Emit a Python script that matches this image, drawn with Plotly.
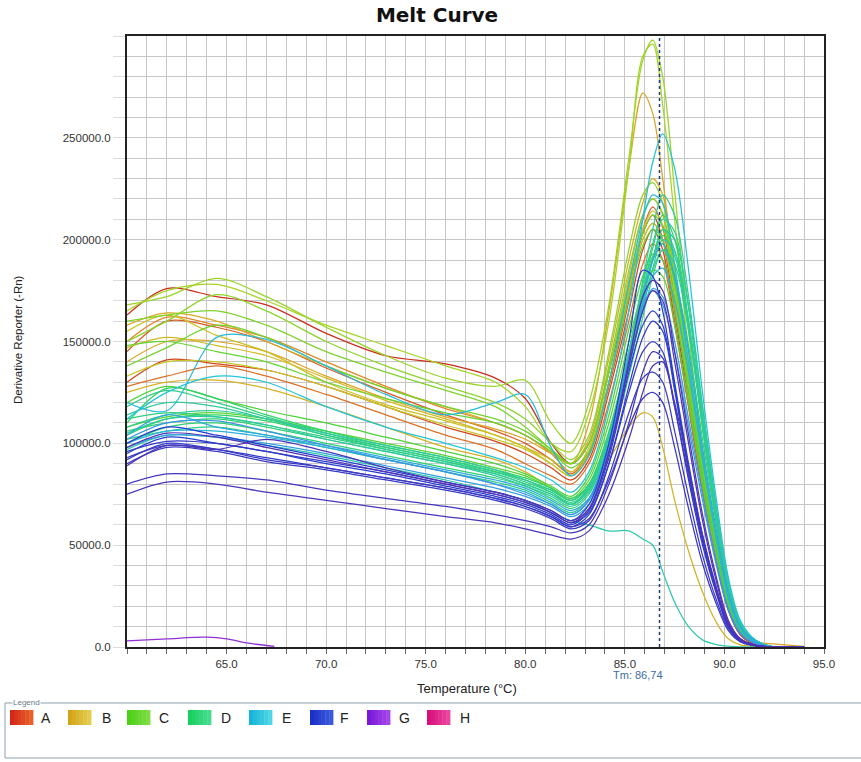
import plotly.graph_objects as go

# Derivative reporter values are stored in thousands (-Rn / 1000)
SCALE = 1000

# Temperature knots (deg C) shared by every well trace
TEMPS = [60, 62, 64.5, 67, 70, 73, 76, 78.5, 80, 81.3, 82.3,
         83.2, 84.2, 85.2, 85.9, 86.4, 86.9, 87.5, 88.2, 88.9, 89.6,
         90.2, 90.8, 91.6, 92.5, 94]

ROW_A = [
    [163, 176, 172, 168, 154, 143, 139, 132, 122, 100, 90, 100, 135, 175, 203, 212, 200, 165, 120, 78, 42, 18, 6, 1, 0, 0],
    [130, 141, 139, 136, 128, 118, 108, 101, 95, 88, 82, 92, 125, 165, 195, 205, 195, 160, 118, 76, 42, 18, 6, 1, 0, 0],
    [145, 160, 157, 150, 137, 125, 114, 106, 100, 92, 85, 95, 128, 170, 205, 216, 206, 170, 126, 82, 46, 20, 7, 1.5, 0, 0],
    [128, 133, 138, 133, 124, 114, 104, 97, 90, 84, 80, 90, 120, 160, 188, 198, 190, 158, 118, 78, 44, 20, 7, 1.5, 0, 0],
    [150, 162, 158, 152, 140, 128, 117, 110, 104, 95, 86, 96, 130, 172, 200, 208, 200, 168, 125, 82, 46, 20, 7, 1.5, 0, 0],
]

ROW_B = [
    [140, 150, 150, 145, 133, 122, 113, 107, 102, 95, 90, 110, 165, 235, 272, 262, 230, 180, 125, 80, 45, 20, 8, 2.5, 1.5, 0.3],
    [158, 164, 160, 150, 138, 127, 118, 110, 104, 96, 90, 102, 142, 190, 218, 230, 222, 185, 135, 88, 50, 22, 8, 2, 0, 0],
    [125, 130, 131, 127, 118, 108, 98, 92, 86, 78, 72, 78, 92, 108, 115, 113, 98, 72, 47, 27, 12, 4, 1, 0.3, 0, 0],
    [147, 152, 148, 143, 132, 121, 112, 104, 98, 90, 84, 96, 135, 182, 212, 220, 212, 178, 132, 86, 48, 21, 8, 2, 0, 0],
    [155, 163, 153, 145, 130, 119, 111, 104, 98, 92, 86, 98, 136, 180, 205, 214, 207, 175, 130, 85, 47, 21, 8, 2, 0, 0],
    [133, 140, 140, 136, 128, 118, 109, 102, 97, 90, 84, 94, 130, 175, 200, 208, 200, 170, 127, 84, 47, 21, 8, 2, 0, 0],
]

ROW_C = [
    [165, 175, 178, 170, 158, 148, 138, 130, 118, 100, 96, 115, 160, 235, 290, 296, 266, 210, 145, 90, 48, 22, 8, 2, 0, 0],
    [168, 172, 181, 172, 157, 143, 132, 128, 131, 110, 100, 120, 168, 240, 288, 298, 280, 224, 155, 96, 52, 24, 9, 2, 0, 0],
    [150, 160, 173, 165, 150, 138, 128, 120, 112, 100, 92, 104, 145, 195, 222, 228, 218, 185, 137, 90, 51, 23, 9, 2, 0, 0],
    [160, 163, 165, 158, 145, 135, 126, 118, 108, 97, 90, 100, 138, 185, 212, 220, 213, 182, 136, 90, 51, 23, 9, 2, 0, 0],
    [138, 147, 158, 152, 138, 127, 118, 112, 106, 97, 90, 100, 135, 178, 203, 212, 207, 178, 133, 88, 50, 23, 9, 2, 0, 0],
    [148, 150, 145, 140, 130, 122, 115, 110, 104, 96, 88, 96, 130, 172, 197, 205, 200, 172, 130, 86, 49, 22, 8, 2, 0, 0],
    [108, 113, 115, 112, 106, 100, 94, 88, 84, 78, 73, 82, 110, 150, 175, 185, 182, 158, 120, 80, 46, 21, 8, 2, 0, 0],
    [120, 128, 122, 116, 110, 103, 96, 90, 85, 79, 74, 84, 114, 156, 182, 193, 190, 165, 125, 83, 47, 22, 8, 2, 0, 0],
]

ROW_D = [
    [104, 112, 114, 111, 104, 98, 92, 86, 82, 77, 72, 80, 106, 145, 175, 192, 198, 180, 140, 95, 55, 26, 10, 2.5, 0, 0],
    [110, 127, 122, 114, 106, 99, 93, 87, 83, 78, 73, 80, 105, 145, 178, 198, 212, 200, 160, 108, 62, 29, 11, 3, 0, 0],
    [100, 108, 110, 106, 100, 94, 88, 83, 79, 73, 68, 75, 100, 140, 170, 190, 205, 195, 158, 108, 62, 29, 11, 3, 0, 0],
    [106, 110, 112, 108, 102, 96, 90, 85, 80, 75, 70, 77, 102, 140, 168, 185, 195, 182, 148, 102, 60, 28, 11, 3, 0, 0],
    [112, 115, 113, 109, 103, 97, 91, 86, 82, 76, 71, 78, 104, 142, 172, 190, 202, 192, 158, 110, 64, 30, 11, 3, 0, 0],
    [118, 126, 120, 113, 105, 98, 92, 86, 81, 76, 70, 78, 103, 140, 170, 190, 205, 200, 168, 118, 68, 32, 12, 3, 0, 0],
    [102, 106, 108, 104, 98, 92, 86, 81, 77, 71, 66, 73, 97, 133, 162, 182, 195, 188, 155, 108, 63, 30, 11, 3, 0, 0],
    [108, 114, 116, 112, 104, 97, 91, 85, 80, 75, 70, 78, 104, 145, 180, 205, 222, 212, 172, 118, 68, 32, 12, 3, 0, 0],
    [114, 120, 118, 112, 105, 99, 93, 87, 82, 77, 72, 79, 104, 142, 174, 196, 210, 204, 166, 114, 66, 31, 12, 3, 0, 0],
    [105, 112, 113, 109, 102, 96, 90, 84, 79, 74, 69, 76, 100, 137, 166, 186, 200, 194, 160, 112, 65, 31, 12, 3, 0, 0],
    [97, 104, 103, 99, 94, 88, 82, 76, 72, 66, 62, 60, 57, 57, 53, 50, 37, 22, 10, 3.5, 1.2, 0.4, 0.1, 0, 0, 0],
]

ROW_E = [
    [112, 125, 133, 130, 118, 108, 100, 93, 88, 82, 76, 86, 118, 165, 210, 238, 252, 235, 185, 125, 72, 34, 13, 3, 0, 0],
    [120, 116, 152, 151, 138, 124, 114, 120, 124, 98, 84, 94, 130, 178, 210, 222, 218, 188, 140, 93, 53, 24, 9, 2, 0, 0],
    [100, 106, 106, 103, 98, 92, 86, 80, 76, 70, 65, 72, 98, 138, 168, 182, 186, 170, 135, 92, 53, 25, 9, 2, 0, 0],
    [104, 114, 108, 104, 99, 93, 87, 82, 78, 72, 67, 73, 100, 142, 172, 190, 198, 182, 145, 98, 57, 27, 10, 2.5, 0, 0],
    [98, 104, 103, 100, 95, 89, 83, 78, 74, 69, 64, 70, 97, 138, 165, 176, 172, 150, 112, 75, 42, 19, 7, 1.5, 0, 0],
    [102, 110, 111, 106, 99, 92, 86, 80, 75, 70, 65, 72, 100, 142, 168, 175, 168, 145, 108, 72, 40, 18, 6.5, 1.5, 0, 0],
]

ROW_F = [
    [100, 108, 104, 99, 93, 87, 81, 76, 72, 67, 62, 70, 100, 150, 185, 182, 165, 130, 90, 55, 28, 11, 3.5, 0.7, 0, 0],
    [95, 103, 100, 96, 90, 85, 79, 74, 70, 65, 60, 67, 93, 135, 158, 165, 158, 128, 88, 54, 28, 11, 3.5, 0.7, 0, 0],
    [92, 100, 97, 93, 88, 83, 78, 73, 69, 64, 59, 65, 90, 128, 152, 160, 155, 126, 86, 52, 27, 10, 3, 0.6, 0, 0],
    [96, 101, 100, 96, 91, 86, 80, 75, 71, 66, 61, 66, 90, 125, 145, 150, 145, 118, 82, 50, 26, 10, 3, 0.6, 0, 0],
    [90, 98, 96, 91, 87, 82, 77, 72, 68, 63, 58, 62, 84, 115, 132, 135, 130, 106, 74, 45, 23, 9, 3, 0.5, 0, 0],
    [93, 99, 97, 92, 88, 83, 78, 73, 69, 64, 59, 63, 82, 108, 122, 125, 120, 98, 68, 41, 21, 8, 2.5, 0.5, 0, 0],
    [80, 85, 84, 82, 77, 73, 69, 65, 62, 59, 56, 60, 80, 110, 135, 145, 142, 118, 84, 52, 27, 10, 3, 0.6, 0, 0],
    [75, 81, 80, 76, 72, 68, 64, 61, 58, 55, 53, 57, 75, 102, 125, 138, 140, 120, 88, 55, 29, 11, 3.5, 0.7, 0, 0],
    [89, 99, 97, 102, 96, 88, 81, 76, 72, 67, 62, 68, 95, 138, 165, 175, 170, 140, 100, 62, 32, 12, 4, 0.8, 0, 0],
    [98, 105, 103, 98, 92, 86, 80, 75, 71, 66, 61, 68, 96, 140, 172, 180, 175, 145, 104, 65, 34, 13, 4, 0.8, 0, 0],
]

# Row G has a single well with no product, read over a shorter span
ROW_G_TEMPS = [60, 62, 64, 65, 66, 67.4]
ROW_G = [
    [3, 4, 4.8, 4, 2, 0.3],
]

TM = 86.74
ROW_NAMES = ["A", "B", "C", "D", "E", "F", "G", "H"]
X_TICKS = [65.0, 70.0, 75.0, 80.0, 85.0, 90.0, 95.0]
Y_TICKS = [0, 50000, 100000, 150000, 200000, 250000]

# Line colour ramps per plate row (first well -> last well)
ROW_RAMPS = {
    "A": ("#cc2e1c", "#e2862a"),
    "B": ("#dca424", "#c8c824"),
    "C": ("#a6d424", "#4cd238"),
    "D": ("#2ed460", "#30c8aa"),
    "E": ("#22c4d8", "#3a96e2"),
    "F": ("#2440d2", "#5232b4"),
    "G": ("#9030d4", "#9030d4"),
}
# Legend swatch gradients (left -> right)
SWATCH_RAMPS = {
    "A": ("#d42818", "#e8602a"),
    "B": ("#d4a418", "#e2cc4c"),
    "C": ("#4cd018", "#7cdc40"),
    "D": ("#18d060", "#44dc8c"),
    "E": ("#18b4d8", "#4cd6e6"),
    "F": ("#1c30c8", "#3a5adc"),
    "G": ("#7818d8", "#a444ea"),
    "H": ("#d8107c", "#ea449e"),
}


def mix(c1, c2, t):
    a = [int(c1[i:i + 2], 16) for i in (1, 3, 5)]
    b = [int(c2[i:i + 2], 16) for i in (1, 3, 5)]
    return "#" + "".join(f"{round(x + (y - x) * t):02x}" for x, y in zip(a, b))


# Plot-area geometry in pixels, used to place the decorations around it
PX_L, PX_R, PX_T, PX_B = 127, 824, 36, 647


def px_x(px):
    return (px - PX_L) / (PX_R - PX_L)


def px_y(py):
    return (PX_B - py) / (PX_B - PX_T)


fig = go.Figure()

rows = [("A", TEMPS, ROW_A), ("B", TEMPS, ROW_B), ("C", TEMPS, ROW_C),
        ("D", TEMPS, ROW_D), ("E", TEMPS, ROW_E), ("F", TEMPS, ROW_F),
        ("G", ROW_G_TEMPS, ROW_G)]

for name, temps, wells in rows:
    c0, c1 = ROW_RAMPS[name]
    n = len(wells)
    for i, vals in enumerate(wells):
        t = i / (n - 1) if n > 1 else 0
        fig.add_trace(go.Scatter(
            x=temps, y=[v * SCALE for v in vals],
            mode="lines",
            line=dict(color=mix(c0, c1, t), width=1.25, shape="spline", smoothing=0.9),
            name=f"{name}{i + 1}", hoverinfo="skip",
        ))

grid_col = "#c6c6c6"
fig.update_layout(
    width=861, height=762,
    margin=dict(l=PX_L, r=861 - PX_R, t=PX_T, b=762 - PX_B),
    plot_bgcolor="white", paper_bgcolor="white",
    showlegend=False,
    title=dict(text="<b>Melt Curve</b>", x=437 / 861, xanchor="center",
               y=1 - 15 / 762, yanchor="middle",
               font=dict(family="DejaVu Sans", size=20, color="#111")),
    xaxis=dict(
        range=[60, 95], tickmode="array", tickvals=X_TICKS,
        ticktext=[f"{v:.1f}" for v in X_TICKS],
        showgrid=True, gridcolor=grid_col, gridwidth=1,
        minor=dict(tickmode="linear", tick0=60, dtick=1, showgrid=True,
                   gridcolor=grid_col, gridwidth=1, ticks="outside",
                   ticklen=5, tickcolor="#666"),
        ticks="outside", ticklen=5, tickcolor="#666",
        showline=True, linecolor="#222", linewidth=2, mirror=True,
        zeroline=False,
        tickfont=dict(family="Liberation Sans", size=11.5, color="#333"),
    ),
    yaxis=dict(
        range=[0, 300000], tickmode="array", tickvals=Y_TICKS,
        ticktext=[f"{v:.1f}" for v in Y_TICKS],
        showgrid=True, gridcolor=grid_col, gridwidth=1,
        minor=dict(tickmode="linear", tick0=0, dtick=10000, showgrid=True,
                   gridcolor=grid_col, gridwidth=1, ticks="outside",
                   ticklen=12, tickcolor="#dcdcdc"),
        ticks="outside", ticklen=12, tickcolor="#dcdcdc",
        showline=True, linecolor="#222", linewidth=2, mirror=True,
        zeroline=False,
        tickfont=dict(family="Liberation Sans", size=11.5, color="#333"),
    ),
)

# Melting temperature marker
fig.add_shape(type="line", xref="x", yref="paper", x0=TM, x1=TM, y0=0, y1=1,
              line=dict(color="#1e3c80", width=1.5, dash="dot"))
fig.add_annotation(xref="paper", yref="paper", x=px_x(638), y=px_y(675),
                   text=f"Tm: {TM:.2f}".replace(".", ","), showarrow=False,
                   font=dict(family="Liberation Sans", size=11, color="#3d6d9e"),
                   xanchor="center", yanchor="middle")

# Axis titles
fig.add_annotation(xref="paper", yref="paper", x=px_x(467), y=px_y(688),
                   text="Temperature (°C)", showarrow=False,
                   font=dict(family="Liberation Sans", size=13, color="#222"),
                   xanchor="center", yanchor="middle")
fig.add_annotation(xref="paper", yref="paper", x=px_x(18), y=px_y(340),
                   text="Derivative Reporter (-Rn)", showarrow=False, textangle=-90,
                   font=dict(family="Liberation Sans Narrow, Liberation Sans", size=11.5, color="#222"),
                   xanchor="center", yanchor="middle")

# Plate-row legend panel
fig.add_shape(type="rect", xref="paper", yref="paper",
              x0=px_x(5), x1=px_x(875), y0=px_y(758), y1=px_y(703),
              line=dict(color="#8fa0ae", width=1), fillcolor="rgba(0,0,0,0)")
fig.add_annotation(xref="paper", yref="paper", x=px_x(12), y=px_y(702),
                   text="Legend", showarrow=False, bgcolor="white",
                   font=dict(family="Liberation Sans", size=8, color="#6a7a88"),
                   xanchor="left", yanchor="middle", borderpad=0)

swatch_x = [10, 68, 127, 188, 249, 310, 367, 427]
letter_x = [46, 106, 164, 226, 286, 344, 404, 465]
strips = 6
for name, sx, lx in zip(ROW_NAMES, swatch_x, letter_x):
    c0, c1 = SWATCH_RAMPS[name]
    w = 23 / strips
    for k in range(strips):
        fig.add_shape(type="rect", xref="paper", yref="paper",
                      x0=px_x(sx + k * w), x1=px_x(sx + (k + 1) * w + 0.4),
                      y0=px_y(725), y1=px_y(710),
                      line=dict(width=0), fillcolor=mix(c0, c1, k / (strips - 1)))
    fig.add_annotation(xref="paper", yref="paper", x=px_x(lx), y=px_y(717.5),
                       text=name, showarrow=False,
                       font=dict(family="Liberation Sans", size=14, color="#222"),
                       xanchor="center", yanchor="middle")

fig.write_html("out.html")
